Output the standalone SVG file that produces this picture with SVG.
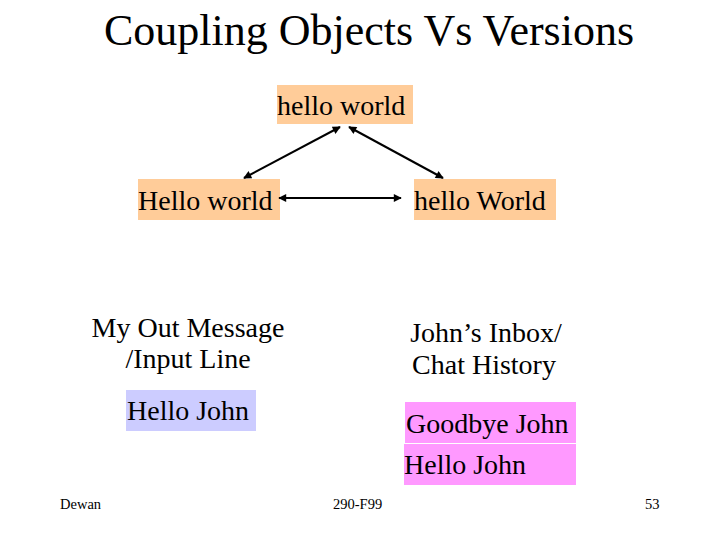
<svg xmlns="http://www.w3.org/2000/svg" width="720" height="540" viewBox="0 0 720 540" font-family="Liberation Serif, Times New Roman, serif">
<style>
.t{font-size:28px}
.f{font-size:14.5px}
.peach{fill:#FFCC99}
.blue{fill:#CCCCFF}
.pink{fill:#FF99FF}
.conn line{stroke:#000;stroke-width:2;marker-start:url(#ah);marker-end:url(#ah)}
</style>
<defs>
<marker id="ah" viewBox="0 0 10 10" refX="9" refY="5" markerWidth="10" markerHeight="8" markerUnits="userSpaceOnUse" orient="auto-start-reverse">
<path d="M0,0 L10,5 L0,10 z" fill="#000"/>
</marker>
</defs>
<rect width="720" height="540" fill="#fff"/>
<text x="369" y="45" font-size="44" text-anchor="middle">Coupling Objects Vs Versions</text>
<g id="top">
<rect class="peach" x="277" y="85" width="136" height="39"/>
<text class="t" x="277" y="115">hello world</text>
</g>
<g id="left">
<rect class="peach" x="138" y="179" width="142" height="41"/>
<text class="t" x="138" y="210">Hello world</text>
</g>
<g id="right">
<rect class="peach" x="414" y="179" width="142" height="41"/>
<text class="t" x="414" y="210">hello World</text>
</g>
<g class="conn" id="connectors">
<line x1="244" y1="178" x2="340" y2="127"/>
<line x1="349" y1="127" x2="443" y2="178"/>
<line x1="279" y1="198" x2="401" y2="198"/>
</g>
<g id="outmsg">
<text class="t" x="188" y="337" text-anchor="middle">My Out Message</text>
<text class="t" x="188" y="368" text-anchor="middle">/Input Line</text>
</g>
<g id="input">
<rect class="blue" x="126" y="390" width="130" height="41"/>
<text class="t" x="127" y="420">Hello John</text>
</g>
<g id="inbox">
<text class="t" x="486" y="342" text-anchor="middle">John’s Inbox/</text>
<text class="t" x="484" y="374" text-anchor="middle">Chat History</text>
</g>
<g id="history">
<rect class="pink" x="405" y="402" width="171" height="41"/>
<text class="t" x="406" y="433">Goodbye John</text>
<rect class="pink" x="404" y="444" width="172" height="41"/>
<text class="t" x="404" y="474">Hello John</text>
</g>
<g id="footer">
<text class="f" x="60" y="509">Dewan</text>
<text class="f" x="333" y="509">290-F99</text>
<text class="f" x="645" y="509">53</text>
</g>
</svg>
